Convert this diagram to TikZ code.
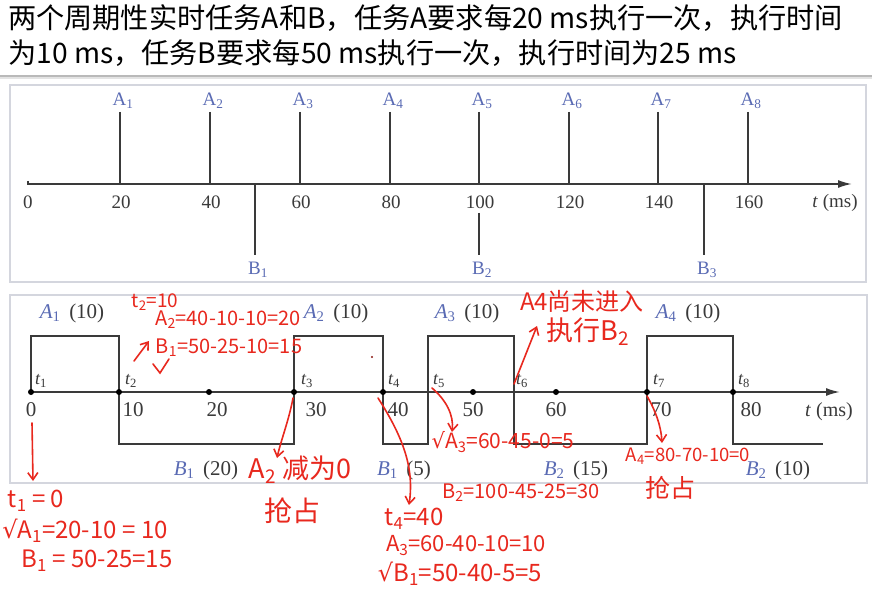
\documentclass[tikz,border=0pt]{standalone}
\usepackage{fontspec}
\setmainfont{Liberation Serif}
\newfontfamily\cjk{Noto Sans CJK SC}
\newfontfamily\symf{DejaVu Sans}
\usetikzlibrary{arrows.meta}
\definecolor{lblue}{HTML}{5A6BB4}
\definecolor{ink}{HTML}{3A3A3A}
\definecolor{frame}{HTML}{D4D6DE}
\definecolor{pen}{HTML}{E8281E}
\tikzset{
  fr/.style={draw=frame, line width=1.6},
  axisline/.style={draw=ink, line width=1.8, -{Latex[length=14pt,width=8pt]}},
  pulse/.style={draw=ink, line width=1.8, line join=miter},
  vbar/.style={draw=ink, line width=1.8},
  toplab/.style={font=\fontsize{19}{21}\selectfont, text=lblue, inner sep=0},
  topnum/.style={font=\fontsize{19}{21}\selectfont, text=ink, inner sep=0},
  botnum/.style={font=\fontsize{21}{23}\selectfont, text=ink, inner sep=0},
  tlab/.style={font=\itshape\fontsize{18}{20}\selectfont, text=ink, inner sep=0},
  tasklab/.style={font=\fontsize{21}{23}\selectfont, text=ink, inner sep=0},
  dotn/.style={circle, fill=black, inner sep=0, minimum size=6pt},
  hand/.style={font=\cjk\fontsize{#1}{#1}\selectfont, text=pen, inner sep=0},
  handline/.style={draw=pen, line width=1.6, line cap=round},
  handarrow/.style={draw=pen, line width=1.6, line cap=round, -{Straight Barb[length=7pt,width=10pt]}},
  head/.style={font=\cjk\fontsize{28.2}{30}\selectfont, text=black, inner sep=0, anchor=west}
}
\begin{document}
\begin{tikzpicture}[x=1pt,y=-1pt]
\fill[white] (0,0) rectangle (872,593);
\useasboundingbox (0,0) rectangle (872,593);

% header
\node[head] (h1) at (8,18) {两个周期性实时任务A和B，任务A要求每20 ms执行一次，执行时间};
\node[head] (h2) at (8,53) {为10 ms，任务B要求每50 ms执行一次，执行时间为25 ms};
\draw[gray!55, line width=1.6] (0,76) -- (872,76);
\draw[gray!22, line width=1.4] (0,78) -- (872,78);

% ---------- top panel ----------
\draw[fr] (10,85) rectangle (866,282);
\coordinate (ts) at (28,181);
\coordinate (t0) at (28,184);
\coordinate (tend) at (852,184);
\draw[axisline] (ts) -- (t0) -- (tend);
\node[topnum] (n0) at (28,202) {0};
\foreach \i/\t/\x in {1/20/120,2/40/210,3/60/300,4/80/390,5/100/479,6/120/569,7/140/658,8/160/748}{
  \coordinate (au\i) at (\x,112);
  \coordinate (ad\i) at (\x,184);
  \draw[vbar] (au\i) -- (ad\i);
  \node[toplab] (A\i) at (\x+3,101) {A\textsubscript{\i}};
  \node[topnum] (n\i) at (\x+1,202) {\t};
}
\node[topnum, font=\fontsize{19}{21}\selectfont] (tms1) at (835,203) {\textit{t} (ms)};
\foreach \i/\x/\ys in {1/255/184,2/479/213,3/704/184}{
  \coordinate (bu\i) at (\x,\ys);
  \coordinate (bd\i) at (\x,255);
  \draw[vbar] (bu\i) -- (bd\i);
  \node[toplab] (B\i) at (\x+3,270) {B\textsubscript{\i}};
}

% ---------- bottom panel ----------
\draw[fr] (10,295) rectangle (867,483);
\coordinate (s0) at (31,392);
\coordinate (send) at (840,392);
\draw[axisline] (s0) -- (send);
\draw[pulse] (31,392) -- (31,336) -- (119,336) -- (119,444) -- (294,444) -- (294,336)
  -- (383,336) -- (383,444) -- (428,444) -- (428,336) -- (514,336) -- (514,444)
  -- (647,444) -- (647,336) -- (733,336) -- (733,444) -- (823,444);
\foreach \n/\x in {d0/31,d10/119,d20/209,d30/294,d40/383,d50/473,d60/556,d70/647,d80/733}{
  \node[dotn] (\n) at (\x,392) {};
}
\foreach \i/\x in {1/41,2/131,3/307,4/394,5/439,6/522,7/659,8/744}{
  \node[tlab] (tl\i) at (\x,381) {t\textsubscript{\upshape\i}};
}
\foreach \n/\v/\x in {m0/0/31,m10/10/133,m20/20/217,m30/30/316,m40/40/398,m50/50/473,m60/60/556,m70/70/661,m80/80/751}{
  \node[botnum] (\n) at (\x,410) {\v};
}
\node[botnum, font=\fontsize{20}{22}\selectfont] (tms2) at (829,412) {\textit{t} (ms)};
\node[tasklab] (la1) at (72,313) {\textcolor{lblue}{\textit{A}\textsubscript{1}}\ \,(10)};
\node[tasklab] (la2) at (336,313) {\textcolor{lblue}{\textit{A}\textsubscript{2}}\ \,(10)};
\node[tasklab] (la3) at (467,313) {\textcolor{lblue}{\textit{A}\textsubscript{3}}\ \,(10)};
\node[tasklab] (la4) at (688,313) {\textcolor{lblue}{\textit{A}\textsubscript{4}}\ \,(10)};
\node[tasklab] (lb1) at (206,470) {\textcolor{lblue}{\textit{B}\textsubscript{1}}\ \,(20)};
\node[tasklab] (lb2) at (404,470) {\textcolor{lblue}{\textit{B}\textsubscript{1}}\ \,(5)};
\node[tasklab] (lb3) at (576,470) {\textcolor{lblue}{\textit{B}\textsubscript{2}}\ \,(15)};
\node[tasklab] (lb4) at (778,470) {\textcolor{lblue}{\textit{B}\textsubscript{2}}\ \,(10)};

% ---------- red handwritten notes ----------
\node[hand=19] (r1) at (155,302) {t\textsubscript{2}=10};
\node[hand=20] (r2) at (228,320) {A\textsubscript{2}=40-10-10=20};
\node[hand=20] (r3) at (229,348) {B\textsubscript{1}=50-25-10=15};
\coordinate (r3a) at (134,361);
\coordinate (r3b) at (149,341);
\draw[handarrow] (r3a) -- (r3b);
\draw[handline] (153,364) -- (160,373) -- (169,359);
\fill[pen!60!black] (372,357) circle (1.2);

\coordinate (p1a) at (32,423);
\coordinate (p1b) at (33,481);
\draw[handarrow] (p1a) -- (p1b);
\node[hand=24] (r5) at (36,501) {t\textsubscript{1} = 0};
\node[hand=24] (r6) at (85,531) {{\symf √}A\textsubscript{1}=20-10 = 10};
\node[hand=24] (r7) at (97,561) {B\textsubscript{1} = 50-25=15};

\coordinate (p2a) at (293,398);
\coordinate (p2b) at (277,458);
\draw[handarrow] (p2a) .. controls (289,420) and (281,440) .. (p2b);
\node[hand=27] (r9) at (300,470) {A\textsubscript{2} 减为0};
\node[hand=28] (r10) at (292,511) {抢占};

\coordinate (p3a) at (378,398);
\coordinate (p3b) at (409,505);
\draw[handarrow] (p3a) .. controls (405,440) and (414,470) .. (p3b);
\node[hand=24] (r12) at (414,519) {t\textsubscript{4}=40};
\node[hand=22] (r13) at (466,546) {A\textsubscript{3}=60-40-10=10};
\node[hand=24] (r14) at (460,574) {{\symf √}B\textsubscript{1}=50-40-5=5};

\coordinate (p4a) at (432,388);
\coordinate (p4b) at (452,432);
\draw[handarrow] (p4a) .. controls (446,400) and (454,415) .. (p4b);
\node[hand=21] (r16) at (503,442) {{\symf √}A\textsubscript{3}=60-45-0=5};
\node[hand=20] (r17) at (521,493) {B\textsubscript{2}=100-45-25=30};

\coordinate (p5a) at (514,384);
\coordinate (p5b) at (537,326);
\draw[handarrow] (p5a) -- (p5b);
\node[hand=24] (r18) at (582,301) {A4尚未进入};
\node[hand=27] (r19) at (588,332) {执行B\textsubscript{2}};

\coordinate (p6a) at (647,396);
\coordinate (p6b) at (662,443);
\draw[handarrow] (p6a) .. controls (655,410) and (661,425) .. (p6b);
\node[hand=18.5] (r21) at (688,456) {A\textsubscript{4}=80-70-10=0};
\node[hand=25] (r22) at (670,488) {抢占};
\end{tikzpicture}
\end{document}
